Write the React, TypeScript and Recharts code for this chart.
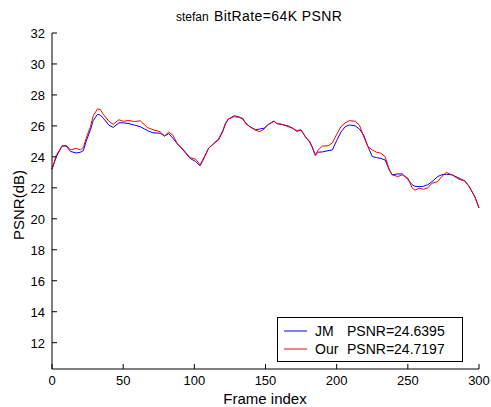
import { LineChart, Line, XAxis, YAxis } from 'recharts';

// frame indices where the curves were sampled
const frames = [
  0, 3, 7, 10, 13, 17, 20, 22, 24, 27, 29, 32, 34, 36, 40, 43, 47, 50, 54, 58,
  62, 67, 71, 76, 79, 82, 85, 88, 92, 97, 101, 104, 107, 110, 114, 117, 120, 122, 124, 128,
  131, 134, 136, 139, 143, 146, 149, 152, 156, 158, 161, 166, 169, 172, 175, 178, 181, 183, 185, 187,
  190, 194, 197, 200, 203, 206, 209, 213, 216, 219, 222, 225, 228, 231, 234, 237, 239, 243, 246, 250,
  253, 255, 258, 261, 264, 267, 271, 274, 277, 281, 286, 290, 293, 297, 300,
];

const jmPsnr = [
  23.2, 24.0, 24.7, 24.7, 24.35, 24.25, 24.3, 24.4, 25.0, 25.75, 26.35, 26.75, 26.7, 26.5, 26.05, 25.9, 26.2, 26.2, 26.15, 26.05,
  25.95, 25.7, 25.55, 25.53, 25.35, 25.5, 25.2, 24.85, 24.45, 23.9, 23.7, 23.42, 23.95, 24.55, 24.88, 25.1, 25.65, 26.15, 26.45, 26.65,
  26.6, 26.45, 26.2, 25.95, 25.75, 25.8, 25.85, 26.1, 26.3, 26.15, 26.1, 26.0, 25.85, 25.65, 25.74, 25.3, 25.0, 24.6, 24.1, 24.3,
  24.32, 24.4, 24.45, 25.05, 25.6, 25.95, 26.06, 26.0, 25.8, 25.4, 24.66, 24.02, 23.95, 23.9, 23.8, 23.16, 22.84, 22.9, 22.9, 22.55,
  22.2, 22.1, 22.08, 22.1, 22.2, 22.4, 22.73, 22.85, 22.88, 22.84, 22.63, 22.45, 22.1, 21.44, 20.7,
];

const ourPsnr = [
  23.2, 24.1, 24.7, 24.75, 24.45, 24.55, 24.45, 24.6, 25.2, 25.95, 26.65, 27.1, 27.05, 26.75, 26.3, 26.1, 26.4, 26.3, 26.35, 26.28,
  26.33, 25.9, 25.75, 25.62, 25.35, 25.6, 25.4, 24.85, 24.5, 23.95, 23.85, 23.48, 24.0, 24.56, 24.9, 25.15, 25.7, 26.2, 26.45, 26.6,
  26.55, 26.5, 26.15, 25.95, 25.72, 25.63, 25.8, 26.08, 26.32, 26.15, 26.12, 25.95, 25.85, 25.7, 25.74, 25.3, 24.95, 24.6, 24.1, 24.45,
  24.7, 24.72, 24.9, 25.45, 25.95, 26.2, 26.34, 26.3, 26.05, 25.3, 24.66, 24.45, 24.3, 24.24, 24.02, 23.16, 22.84, 22.73, 22.84, 22.63,
  22.0, 21.85, 21.98, 21.9, 22.0, 22.3, 22.4, 22.75, 22.99, 22.84, 22.55, 22.45, 22.1, 21.44, 20.7,
];

const xTicks = [0, 50, 100, 150, 200, 250, 300];
const yTicks = [12, 14, 16, 18, 20, 22, 24, 26, 28, 30, 32];

const seriesNames = ['JM  PSNR=24.6395', 'Our  PSNR=24.7197'];

const data = frames.map((f, i) => ({ frame: f, jm: jmPsnr[i], our: ourPsnr[i] }));

const FONT = 'Arial, "Liberation Sans", sans-serif';

const BottomTick = ({ x, y, payload }: any) => (
  <g>
    <line x1={x} x2={x} y1={y} y2={y - 5} stroke="#000" />
    <text x={x} y={y + 16} textAnchor="middle" fontSize={13} fill="#000" fontFamily={FONT}>
      {payload.value}
    </text>
  </g>
);

const TopTick = ({ x, y }: any) => <line x1={x} x2={x} y1={y} y2={y + 5} stroke="#000" />;

const LeftTick = ({ x, y, payload }: any) => (
  <g>
    <line x1={x} x2={x + 5} y1={y} y2={y} stroke="#000" />
    <text x={x - 7} y={y + 5} textAnchor="end" fontSize={13} fill="#000" fontFamily={FONT}>
      {payload.value}
    </text>
  </g>
);

const RightTick = ({ x, y }: any) => <line x1={x - 5} x2={x} y1={y} y2={y} stroke="#000" />;

export default function App() {
  return (
    <div style={{ position: 'absolute', left: 0, top: 0, width: 491, height: 407, background: '#fff' }}>
      <LineChart width={491} height={407} data={data} margin={{ top: 33, right: 12, bottom: 0, left: 0 }}>
        <XAxis
          dataKey="frame"
          type="number"
          domain={[0, 300]}
          ticks={xTicks}
          height={38}
          tickSize={0}
          tickMargin={0}
          tickLine={false}
          axisLine={{ stroke: '#000' }}
          tick={BottomTick}
        />
        <XAxis
          xAxisId="top"
          orientation="top"
          dataKey="frame"
          type="number"
          domain={[0, 300]}
          ticks={xTicks}
          height={0}
          tickSize={0}
          tickMargin={0}
          tickLine={false}
          axisLine={{ stroke: '#000' }}
          tick={TopTick}
        />
        <YAxis
          type="number"
          domain={[10.3, 32]}
          ticks={yTicks}
          allowDataOverflow
          width={52}
          tickSize={0}
          tickMargin={0}
          tickLine={false}
          axisLine={{ stroke: '#000' }}
          tick={LeftTick}
        />
        <YAxis
          yAxisId="right"
          orientation="right"
          type="number"
          domain={[10.3, 32]}
          ticks={yTicks}
          allowDataOverflow
          width={0}
          tickSize={0}
          tickMargin={0}
          tickLine={false}
          axisLine={{ stroke: '#000' }}
          tick={RightTick}
        />
        <Line type="linear" dataKey="jm" name={seriesNames[0]} stroke="#0000ff" strokeWidth={1} dot={false} isAnimationActive={false} />
        <Line type="linear" dataKey="our" name={seriesNames[1]} stroke="#ff0000" strokeWidth={1} dot={false} isAnimationActive={false} />
      </LineChart>
      <svg
        width={491}
        height={407}
        style={{ position: 'absolute', left: 0, top: 0, pointerEvents: 'none' }}
        fontFamily={FONT}
      >
        <text x={176} y={21} fontSize={12} fill="#000">stefan</text>
        <text x={214} y={21} fontSize={14} fill="#000" letterSpacing={0.4}>BitRate=64K PSNR</text>
        <text x={265} y={404} fontSize={15} textAnchor="middle" fill="#000">Frame index</text>
        <text x={24} y={205} fontSize={15} textAnchor="middle" fill="#000" transform="rotate(-90 24 205)">
          PSNR(dB)
        </text>
        <rect x={277.5} y={317.5} width={185} height={44} fill="#fff" stroke="#000" />
        <line x1={284} x2={307} y1={331} y2={331} stroke="#0000ff" />
        <line x1={284} x2={307} y1={349} y2={349} stroke="#ff0000" />
        <text x={315} y={336} fontSize={14} fill="#000">JM</text>
        <text x={347} y={336} fontSize={14} fill="#000">PSNR=24.6395</text>
        <text x={315} y={354} fontSize={14} fill="#000">Our</text>
        <text x={347} y={354} fontSize={14} fill="#000">PSNR=24.7197</text>
      </svg>
    </div>
  );
}
